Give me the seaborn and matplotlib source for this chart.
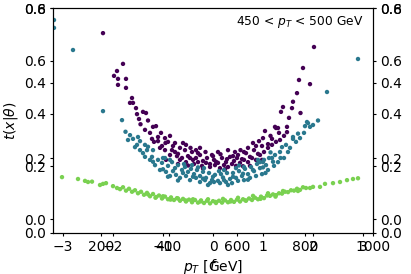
import numpy as np
import pandas as pd
import matplotlib
matplotlib.use("Agg")
import matplotlib.pyplot as plt
import seaborn as sns

# standardized x and t(x|theta) values
purple_x = [-2.20, -1.80, -1.92, -1.98, -1.90, -1.74, -1.90, -1.74, -1.66, -1.60,
            -1.54, -1.52, -1.40, -1.34, -1.48, -1.36, -1.20, -1.14, -1.26, -1.04,
            -1.22, -1.18, -1.10, -0.96, -0.86, -0.90, -1.02, -0.76, -0.82, -0.66,
            -0.70, -0.56, -0.50, -0.42, -0.34, -0.26, -0.20, -0.12, -0.06, 0.02,
            0.10, 0.18, 0.26, 0.34, 0.42, 0.50, 0.58, 0.66, 0.74, 0.82,
            0.90, 0.98, 1.00, 1.04, 1.18, 1.10, 1.24, 1.32, 1.26, 1.48,
            1.52, 1.36, 1.40, 1.58, 1.68, 1.72, 1.94, 1.80, 2.02,
            -0.96, -0.86, -0.76, -0.62, -0.54, -0.46, -0.38, -0.30, -0.22, -0.14,
            -0.06, 0.04, 0.14, 0.22, 0.30, 0.38, 0.46, 0.54, 0.62, 0.70,
            0.78, 0.86, 0.94, 1.02, 1.10, 1.18, 1.26, 1.34, 1.42, 1.48,
            -0.66, -0.34, -0.02, 0.30, 0.62, 0.86, -0.54, -0.26, 0.10, 0.44,
            -1.06, -0.94, -0.70, 0.74, 0.98,
            -0.80, -0.60, -0.45, -0.30, -0.15, 0.00, 0.15, 0.28, 0.40, 0.55,
            0.70, 0.80, 0.92, -0.95, -1.10, 1.15, 1.30, -1.30, -1.45, 1.60,
            1.75, -1.62, -0.40, 0.06, 0.48, -0.72, 0.24, -0.20, 0.60, -0.50]
purple_t = [0.533, 0.451, 0.432, 0.419, 0.411, 0.411, 0.395, 0.387, 0.347, 0.347,
            0.333, 0.317, 0.323, 0.320, 0.304, 0.275, 0.283, 0.285, 0.267, 0.267,
            0.251, 0.243, 0.256, 0.253, 0.259, 0.243, 0.232, 0.240, 0.221, 0.227,
            0.211, 0.221, 0.205, 0.216, 0.200, 0.208, 0.192, 0.200, 0.184, 0.195,
            0.187, 0.200, 0.189, 0.203, 0.192, 0.208, 0.197, 0.213, 0.203, 0.221,
            0.211, 0.232, 0.253, 0.272, 0.251, 0.237, 0.283, 0.267, 0.280, 0.283,
            0.307, 0.323, 0.336, 0.333, 0.373, 0.408, 0.397, 0.440, 0.496,
            0.221, 0.208, 0.216, 0.200, 0.189, 0.200, 0.184, 0.189, 0.179, 0.187,
            0.176, 0.181, 0.173, 0.181, 0.176, 0.184, 0.179, 0.187, 0.195, 0.189,
            0.200, 0.195, 0.208, 0.216, 0.227, 0.235, 0.243, 0.248, 0.259, 0.269,
            0.195, 0.221, 0.208, 0.221, 0.216, 0.232, 0.235, 0.227, 0.216, 0.216,
            0.227, 0.195, 0.184, 0.179, 0.195,
            0.232, 0.240, 0.227, 0.213, 0.216, 0.205, 0.210, 0.197, 0.205, 0.221,
            0.227, 0.240, 0.245, 0.240, 0.245, 0.259, 0.280, 0.300, 0.290, 0.350,
            0.320, 0.360, 0.195, 0.190, 0.200, 0.205, 0.170, 0.172, 0.178, 0.180]

teal_x = [-3.18, -3.18, -2.80, -2.20, -1.82, -1.66, -1.70, -1.60, -1.50, -1.46,
          -1.56, -1.36, -1.32, -1.40, -1.22, -1.20, -1.10, -1.02, -0.96, -0.90,
          -0.82, -0.76, -0.70, -0.62, -0.56, -0.50, -0.44, -0.38, -0.32, -0.26,
          -0.20, -0.14, -0.08, -0.02, 0.04, 0.10, 0.16, 0.22, 0.28, 0.34,
          0.40, 0.46, 0.52, 0.58, 0.64, 0.70, 0.76, 0.82, 0.88, 0.94,
          1.00, 1.06, 1.12, 1.18, 1.24, 1.34, 1.38, 1.46, 1.60, 1.60,
          1.82, 1.84, 1.90, 1.94, 2.00, 1.88, 2.28, 2.90,
          -1.16, -1.06, -0.94, -0.86, -0.74, -0.66, -0.54, -0.46, -0.34, -0.26,
          -0.16, -0.06, 0.02, 0.14, 0.26, 0.38, 0.50, 0.62, 0.74, 0.86,
          0.98, 1.10, 1.22, 1.30, 1.42, 1.50, -1.26, -1.36, -1.46, -1.52,
          1.54, 1.66, 1.74, -0.58, -0.18, 0.22, 0.62, 1.02, -0.86, 0.94,
          -0.42, 0.46,
          -1.00, -0.80, -0.60, -0.40, -0.20, 0.00, 0.20, 0.40, 0.60, 0.80,
          1.00, 1.20, -1.20, -0.90, -0.70, -0.10, 0.30, 0.70, 1.05, 1.35,
          -1.30, 1.70, -1.75, 2.10, -1.00, -0.30, 0.12, 0.52, 0.90, 1.15]
teal_t = [0.568, 0.547, 0.488, 0.325, 0.301, 0.261, 0.248, 0.251, 0.256, 0.245,
          0.229, 0.235, 0.221, 0.213, 0.203, 0.221, 0.195, 0.187, 0.200, 0.179,
          0.189, 0.173, 0.181, 0.168, 0.176, 0.163, 0.171, 0.157, 0.168, 0.152,
          0.163, 0.147, 0.160, 0.141, 0.155, 0.139, 0.157, 0.141, 0.160, 0.144,
          0.160, 0.147, 0.165, 0.152, 0.171, 0.157, 0.176, 0.165, 0.184, 0.173,
          0.189, 0.181, 0.200, 0.200, 0.208, 0.216, 0.229, 0.235, 0.251, 0.256,
          0.267, 0.285, 0.293, 0.283, 0.288, 0.296, 0.376, 0.464,
          0.181, 0.168, 0.163, 0.152, 0.155, 0.147, 0.152, 0.141, 0.147, 0.136,
          0.141, 0.133, 0.136, 0.133, 0.136, 0.133, 0.139, 0.141, 0.147, 0.152,
          0.157, 0.168, 0.179, 0.189, 0.200, 0.216, 0.195, 0.203, 0.221, 0.235,
          0.227, 0.243, 0.253, 0.184, 0.173, 0.168, 0.176, 0.195, 0.195, 0.189,
          0.181, 0.173,
          0.170, 0.165, 0.160, 0.150, 0.145, 0.150, 0.148, 0.150, 0.158, 0.168,
          0.175, 0.190, 0.190, 0.150, 0.140, 0.128, 0.128, 0.142, 0.160, 0.200,
          0.230, 0.265, 0.270, 0.300, 0.200, 0.175, 0.165, 0.180, 0.195, 0.215]

green_x = [-3.02, -2.70, -2.56, -2.50, -2.42, -2.26, -2.20, -2.14, -2.00, -1.92,
           -1.86, -1.80, -1.74, -1.68, -1.62, -1.56, -1.50, -1.44, -1.38, -1.32,
           -1.26, -1.20, -1.14, -1.08, -1.02, -0.96, -0.90, -0.84, -0.78, -0.72,
           -0.66, -0.60, -0.54, -0.48, -0.42, -0.36, -0.30, -0.24, -0.18, -0.12,
           -0.06, 0.00, 0.06, 0.12, 0.18, 0.24, 0.30, 0.36, 0.42, 0.48,
           0.54, 0.60, 0.66, 0.72, 0.78, 0.84, 0.90, 0.96, 1.02, 1.08,
           1.14, 1.20, 1.26, 1.32, 1.38, 1.44, 1.50, 1.56, 1.62, 1.68,
           1.74, 1.80, 1.86, 1.94, 2.00, 2.14, 2.24, 2.40, 2.54, 2.68,
           2.80, 2.90,
           -1.30, -1.00, -0.70, -0.40, -0.10, 0.20, 0.50, 0.80, 1.10, 1.40,
           -1.15, -0.85, -0.55, -0.25, 0.05, 0.35, 0.65, 0.95, 1.25, 1.70]
green_t = [0.149, 0.144, 0.139, 0.136, 0.137, 0.128, 0.131, 0.133, 0.125, 0.120,
           0.117, 0.122, 0.113, 0.118, 0.110, 0.114, 0.106, 0.110, 0.102, 0.107,
           0.098, 0.104, 0.096, 0.100, 0.092, 0.097, 0.090, 0.095, 0.088, 0.093,
           0.086, 0.091, 0.084, 0.089, 0.082, 0.088, 0.081, 0.087, 0.080, 0.086,
           0.079, 0.085, 0.080, 0.086, 0.081, 0.087, 0.082, 0.088, 0.083, 0.089,
           0.084, 0.090, 0.086, 0.092, 0.088, 0.094, 0.090, 0.097, 0.093, 0.100,
           0.099, 0.103, 0.101, 0.106, 0.105, 0.110, 0.109, 0.114, 0.113, 0.118,
           0.115, 0.122, 0.120, 0.120, 0.123, 0.123, 0.131, 0.133, 0.136, 0.141,
           0.144, 0.146,
           0.103, 0.098, 0.092, 0.090, 0.090, 0.091, 0.094, 0.099, 0.106, 0.112,
           0.094, 0.089, 0.087, 0.084, 0.083, 0.084, 0.087, 0.091, 0.097, 0.112]

pt_ticks = [200, 400, 600, 800, 1000]
z_ticks = [-3, -2, -1, 0, 1, 2, 3]
t_ticks_a = [0.0, 0.2, 0.4, 0.6, 0.8]
t_ticks_b = [0.0, 0.2, 0.4, 0.6]

colors = {"purple": "#440154", "teal": "#2a788e", "green": "#7ad151"}

df = pd.concat([
    pd.DataFrame({"x": purple_x, "t": purple_t, "g": "purple"}),
    pd.DataFrame({"x": teal_x, "t": teal_t, "g": "teal"}),
    pd.DataFrame({"x": green_x, "t": green_t, "g": "green"}),
])

plt.rcParams["xtick.major.size"] = 2.5
plt.rcParams["ytick.major.size"] = 2.5
plt.rcParams["xtick.major.pad"] = 2.5
plt.rcParams["ytick.major.pad"] = 2.5

fig = plt.figure(figsize=(4.11, 2.74), dpi=100)
rect = [53 / 411, 41 / 274, 320 / 411, 225 / 274]

# pT axes underneath
ax_a = fig.add_axes(rect)
ax_a.set_xlim(60, 1000)
ax_a.set_ylim(-0.053, 0.8)
ax_a.set_xticks(pt_ticks)
ax_a.set_yticks(t_ticks_a)
ax_a.tick_params(axis="y", right=True, labelright=True)
ax_a.set_xlabel("$p_T$ [GeV]", labelpad=3)

# standardized axes on top, holding the points
ax_b = fig.add_axes(rect)
ax_b.patch.set_visible(False)
sns.scatterplot(data=df, x="x", y="t", hue="g", palette=colors, s=10,
                linewidth=0, legend=False, ax=ax_b)
ax_b.set_xlim(-3.2, 3.2)
ax_b.set_ylim(0, 0.6)
ax_b.set_xticks(z_ticks)
ax_b.set_yticks(t_ticks_b)
ax_b.tick_params(axis="y", right=True, labelright=True)
ax_b.set_xlabel("$f$", labelpad=3)
ax_b.set_ylabel(r"$t(x|\theta)$", labelpad=3)
ax_b.text(0.97, 0.975, "450 < $p_T$ < 500 GeV", transform=ax_b.transAxes,
          ha="right", va="top", fontsize=8.8)

fig.savefig("out.png", dpi=100)
